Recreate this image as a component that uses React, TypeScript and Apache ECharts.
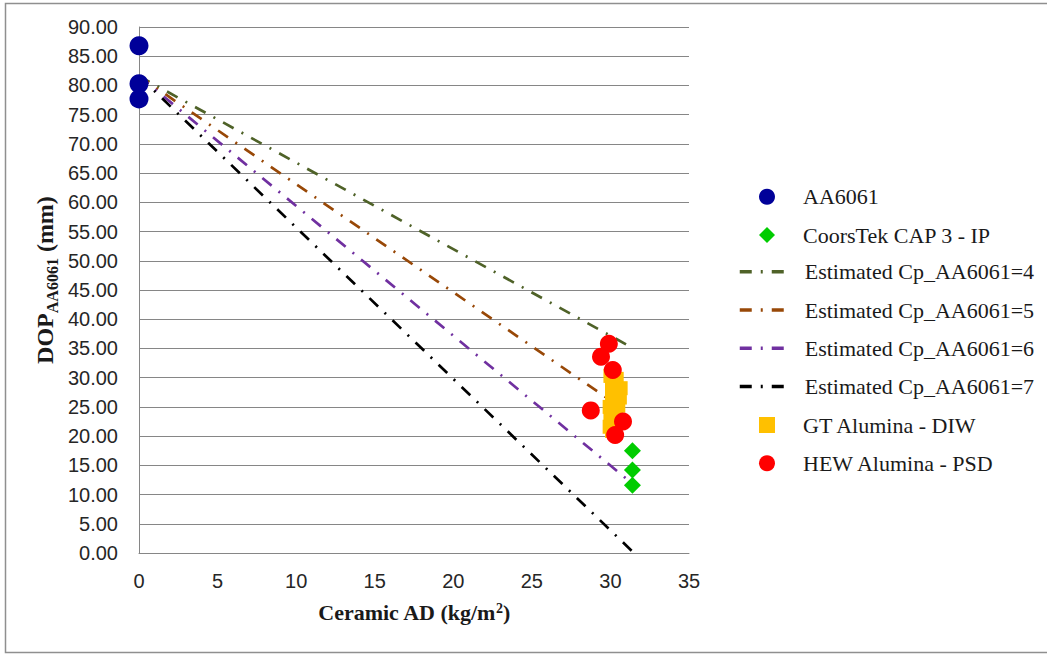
import React, { useEffect, useRef } from "react";
import * as echarts from "echarts";

const xTicks = [0, 5, 10, 15, 20, 25, 30, 35];
const yTicks = [0, 5, 10, 15, 20, 25, 30, 35, 40, 45, 50, 55, 60, 65, 70, 75, 80, 85, 90];

const aa6061: number[][] = [
  [0, 86.8],
  [0, 80.3],
  [0, 77.7],
];
const coorsTek: number[][] = [
  [31.4, 17.5],
  [31.4, 14.2],
  [31.4, 11.6],
];
const cp4: number[][] = [
  [0, 81.6],
  [31.2, 35.4],
];
const cp5: number[][] = [
  [0, 81.6],
  [31.2, 23.9],
];
const cp6: number[][] = [
  [0, 81.6],
  [31.2, 12.3],
];
const cp7: number[][] = [
  [0, 81.6],
  [31.5, 0.0],
];
const gtAlumina: number[][] = [
  [30.0, 30.3],
  [30.4, 29.8],
  [30.1, 28.6],
  [30.65, 28.2],
  [30.1, 27.0],
  [30.6, 26.6],
  [30.5, 25.2],
  [29.95, 25.0],
  [30.0, 23.3],
  [30.35, 23.6],
  [29.95, 21.6],
  [30.1, 20.9],
];
const hewAlumina: number[][] = [
  [29.9, 35.8],
  [29.4, 33.6],
  [30.15, 31.3],
  [28.75, 24.4],
  [30.8, 22.5],
  [30.3, 20.2],
];

const NAMES = {
  aa: "AA6061",
  ct: "CoorsTek CAP 3 - IP",
  c4: "Estimated Cp_AA6061=4",
  c5: "Estimated Cp_AA6061=5",
  c6: "Estimated Cp_AA6061=6",
  c7: "Estimated Cp_AA6061=7",
  gt: "GT Alumina - DIW",
  hew: "HEW Alumina - PSD",
};

const serif = "'Liberation Serif', 'Times New Roman', serif";
const sans = "'Liberation Sans', Arial, sans-serif";
const dash = [12, 9, 2, 9];

export default function App() {
  const ref = useRef<HTMLDivElement>(null);
  useEffect(() => {
    if (!ref.current) return;
    const chart = echarts.init(ref.current, null, { renderer: "svg" });
    const legendText = {
      fontFamily: serif,
      fontSize: 22,
      color: "#1a1a1a",
      lineHeight: 22,
    };
    const lineSeries = (name: string, data: number[][], color: string) => ({
      name,
      type: "line",
      data,
      symbol: "none",
      lineStyle: { color, width: 2.7, type: dash },
      itemStyle: { color },
      z: 2,
    });
    const hiddenMarker = { color: "rgba(0,0,0,0)", borderColor: "rgba(0,0,0,0)", borderWidth: 0 };
    chart.setOption({
      animation: false,
      backgroundColor: "#ffffff",
      grid: { left: 139, right: 358, top: 27, bottom: 102, containLabel: false },
      xAxis: {
        type: "value",
        min: 0,
        max: xTicks[xTicks.length - 1],
        interval: 5,
        axisLine: { show: true, onZero: false, lineStyle: { color: "#868686", width: 1 } },
        axisTick: { show: false },
        splitLine: { show: false },
        axisLabel: { margin: 18, fontFamily: sans, fontSize: 20, color: "#262626" },
        name: "Ceramic AD (kg/m{s|2})",
        nameLocation: "middle",
        nameGap: 48,
        nameTextStyle: {
          fontFamily: serif,
          fontSize: 22,
          fontWeight: "bold",
          color: "#1a1a1a",
          rich: {
            s: { fontFamily: serif, fontSize: 14, fontWeight: "bold", color: "#1a1a1a", verticalAlign: "top", padding: [0, 0, 8, 0] },
          },
        },
      },
      yAxis: {
        type: "value",
        min: 0,
        max: yTicks[yTicks.length - 1],
        interval: 5,
        axisLine: { show: true, lineStyle: { color: "#868686", width: 1 } },
        axisTick: { show: false },
        splitLine: { show: true, lineStyle: { color: "#868686", width: 1 } },
        axisLabel: {
          margin: 21,
          fontFamily: sans,
          fontSize: 20,
          color: "#262626",
          formatter: (v: number) => v.toFixed(2),
        },
      },
      legend: [
        {
          data: [NAMES.aa, NAMES.ct],
          orient: "vertical",
          left: 759,
          top: 185.7,
          padding: 0,
          itemWidth: 16,
          itemHeight: 16,
          itemGap: 16.3,
          textStyle: { ...legendText, padding: [0, 0, 0, 23] },
        },
        {
          data: [
            { name: NAMES.c4, itemStyle: hiddenMarker },
            { name: NAMES.c5, itemStyle: hiddenMarker },
            { name: NAMES.c6, itemStyle: hiddenMarker },
            { name: NAMES.c7, itemStyle: hiddenMarker },
          ],
          orient: "vertical",
          left: 738,
          top: 260.7,
          padding: 0,
          itemWidth: 48,
          itemHeight: 16,
          itemGap: 16.3,
          lineStyle: { width: 3.5 },
          textStyle: { ...legendText, padding: [0, 0, 0, 12] },
        },
        {
          data: [NAMES.gt, NAMES.hew],
          orient: "vertical",
          left: 759,
          top: 414,
          padding: 0,
          itemWidth: 16,
          itemHeight: 16,
          itemGap: 16.3,
          textStyle: { ...legendText, padding: [0, 0, 0, 23] },
        },
      ],
      graphic: [
        {
          type: "rect",
          silent: true,
          shape: { x: 5.5, y: 3.5, width: 1100, height: 649 },
          style: { fill: "none", stroke: "#8f8f8f", lineWidth: 1.5 },
          z: -10,
        },
        {
          type: "text",
          silent: true,
          x: 47,
          y: 280,
          rotation: Math.PI / 2,
          style: {
            text: "{a|DOP}{b|AA6061}{a| (mm)}",
            align: "center",
            verticalAlign: "middle",
            rich: {
              a: { fontFamily: serif, fontSize: 24, fontWeight: "bold", fill: "#1a1a1a", verticalAlign: "bottom", lineHeight: 27, padding: [0, 0, 4, 0] },
              b: { fontFamily: serif, fontSize: 16, fontWeight: "bold", fill: "#1a1a1a", verticalAlign: "bottom", lineHeight: 27 },
            },
          },
        },
      ],
      series: [
        {
          name: NAMES.aa,
          type: "scatter",
          data: aa6061,
          symbol: "circle",
          symbolSize: 19,
          itemStyle: { color: "#000099", opacity: 1 },
        },
        {
          name: NAMES.ct,
          type: "scatter",
          data: coorsTek,
          symbol: "diamond",
          symbolSize: 17,
          itemStyle: { color: "#00cc00", opacity: 1 },
        },
        lineSeries(NAMES.c4, cp4, "#4f6228"),
        lineSeries(NAMES.c5, cp5, "#984807"),
        lineSeries(NAMES.c6, cp6, "#7030a0"),
        lineSeries(NAMES.c7, cp7, "#000000"),
        {
          name: NAMES.gt,
          type: "scatter",
          data: gtAlumina,
          symbol: "rect",
          symbolSize: 14,
          itemStyle: { color: "#ffc000", opacity: 1 },
        },
        {
          name: NAMES.hew,
          type: "scatter",
          data: hewAlumina,
          symbol: "circle",
          symbolSize: 18,
          itemStyle: { color: "#ff0000", opacity: 1 },
        },
      ],
    });
    return () => chart.dispose();
  }, []);
  return (
    <div
      ref={ref}
      style={{ position: "fixed", left: 0, top: 0, width: 1047, height: 655, background: "#fff" }}
    />
  );
}
